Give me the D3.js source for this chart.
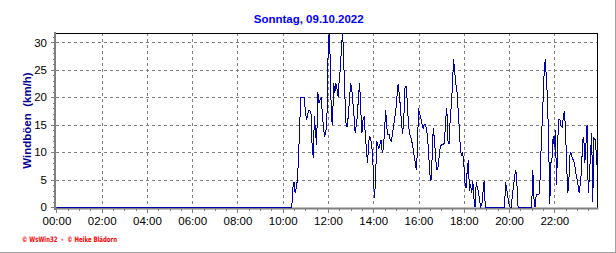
<!DOCTYPE html>
<html><head><meta charset="utf-8">
<script src="https://cdn.jsdelivr.net/npm/d3@7"></script>
<style>
html,body{margin:0;padding:0;background:#fff;}
svg{display:block;}
text{font-family:"Liberation Sans",Arial,sans-serif;}
</style></head>
<body>
<script>
// ---- data ----
const title = "Sonntag, 09.10.2022";
const yTitle = "Windböen  (km/h)";
const footer = "© WsWin32  -  © Heike Blädorn";
const xTickLabels = ["00:00","02:00","04:00","06:00","08:00","10:00","12:00","14:00","16:00","18:00","20:00","22:00"];
const yTickValues = [0,5,10,15,20,25,30];
const calmTimes = ["00:00","02:00","04:00","06:00","08:00"];
const calmValues = [0,0,0,0,0];
const gustStart = "10:00";
const gustStepMinutes = 3;
const gusts = [
 0,0,0,0,0,0,0,0,0,3.5, 4.6,2.5,3.5,5,9,15,20,20,20,20,
 17.5,15.8,16.8,17.6,17.6,17,11,9,16.5,13.5, 11.3,21,19,19.5,20,17,14.5,12.8,13.5,15.5,
 27,31.7,27,16,15,22.6,20.8,22.5,21.5,20, 23.5,25.3,29.5,31.7,26,20,15,14.5,16.8,19.5,
 22.6,21.5,19,16.5,13.5,15,16.5,20.5,22.6,17.5, 13.5,16,16.5,13,10.4,8,12,12.9,12,10.5,
 7,1.6,4.5,12,11.3,10.6,11.5,12.2,9.8,10.8, 14,17.7,14.5,13.2,13.2,12.3,12,13.2,14.8,16.2,
 17.7,20.2,22.4,20.5,18.3,15.2,13.3,16,21.7,22, 19.5,15.5,13.3,12.8,12,11,9.5,8.2,6.8,10,
 18,17,16.3,15.2,14.3,15,15,14.3,12.8,9.5, 6,4.7,8.8,14.3,12.5,9.5,6.8,6.8,8.8,10.5,
 11.3,11.3,11.3,11.8,16,18,12,11.5,16,18.5, 22.2,27,24.5,22.5,21,17.7,14.5,10.5,9.3,10,
 8,4.5,3.5,6.5,8.5,3,4.2,2.5,4.7,1.5, 0,4.5,3.5,2.8,1.2,0,0.5,2.8,4.7,0,
 0,0,0,0,0,0,0,0,0,0, 0,0,0,0,0,0,0,4.5,3.2,1.8,
 0.5,0,0,2.2,4,5.6,6.8,4,0,0, 0,0,0,0,0,0,0,0,0,0,
 0,6.8,1.5,0,2.2,2.2,2.2,2.5,9,14, 19,24.4,26.9,23.5,19.5,12,0.5,8,9,13,
 11,14,4,12,15.9,15.9,14.7,14.5,16.5,17.5, 13.5,7,2.6,5.5,10,9.8,8.8,8.5,7.8,6.2,
 5.2,4,2.5,4.4,6.5,12,12.8,8,11.5,15, 2.5,5.5,9.5,13.5,1,12.5,12.3,10,6.8
];

// ---- build series ----
const toMin = s => { const [h,m] = s.split(":").map(Number); return h*60+m; };
const series = calmTimes.map((t,i)=>({t:toMin(t), v:calmValues[i]}))
  .concat(gusts.map((v,i)=>({t:toMin(gustStart)+i*gustStepMinutes, v})));

const W = 616, H = 253;
const svg = d3.select("body").append("svg").attr("width",W).attr("height",H);

const x = d3.scaleLinear().domain([0, series[series.length-1].t]).range([56.4, 597.3]);
const y = d3.scaleLinear().domain([0, 31.7]).range([207, 33]);

// outer frame (right & bottom)
svg.append("line").attr("x1",0).attr("x2",W).attr("y1",H-0.5).attr("y2",H-0.5)
  .attr("stroke","#a0a0a0").attr("shape-rendering","crispEdges");
svg.append("line").attr("x1",W-0.5).attr("x2",W-0.5).attr("y1",0).attr("y2",H)
  .attr("stroke","#a0a0a0").attr("shape-rendering","crispEdges");

const xTicks = xTickLabels.map(toMin);

// grid
const grid = svg.append("g").attr("stroke","#808080").attr("stroke-dasharray","3,3")
  .attr("shape-rendering","crispEdges");
grid.selectAll("line.v").data(xTicks.slice(1)).join("line")
  .attr("x1",d=>Math.round(x(d))+0.5).attr("x2",d=>Math.round(x(d))+0.5)
  .attr("y1",y.range()[1]).attr("y2",y(0));
grid.selectAll("line.h").data(yTickValues.slice(1)).join("line")
  .attr("y1",d=>Math.round(y(d))+0.5).attr("y2",d=>Math.round(y(d))+0.5)
  .attr("x1",x.range()[0]).attr("x2",x.range()[1]);

// top & right border
svg.append("line").attr("x1",55).attr("x2",x.range()[1]+0.5).attr("y1",33.5).attr("y2",33.5)
  .attr("stroke","#000").attr("shape-rendering","crispEdges");
svg.append("line").attr("x1",x.range()[1]+0.5).attr("x2",x.range()[1]+0.5).attr("y1",33).attr("y2",208)
  .attr("stroke","#000").attr("shape-rendering","crispEdges");

// x axis minor ticks
const xMinor = d3.range(0, series[series.length-1].t + 1, 30);
svg.append("g").attr("transform","translate(0,208)")
  .call(d3.axisBottom(x).tickValues(xMinor).tickSize(3).tickFormat(""))
  .call(g=>g.select(".domain").remove())
  .call(g=>g.selectAll("line").attr("stroke","#808080").attr("shape-rendering","crispEdges"));
// x axis major ticks with labels
svg.append("g").attr("transform","translate(0,208)")
  .call(d3.axisBottom(x).tickValues(xTicks).tickSize(5).tickPadding(4).tickFormat((d,i)=>xTickLabels[i]))
  .call(g=>g.select(".domain").remove())
  .call(g=>g.selectAll("line").attr("stroke","#808080").attr("shape-rendering","crispEdges"))
  .call(g=>g.selectAll("text").attr("fill","#000").style("font-size","11.5px")
     .style("font-family","'Liberation Sans',Arial,sans-serif"));

// y axis minor ticks
svg.append("g").attr("transform","translate(55,0)")
  .call(d3.axisLeft(y).tickValues(d3.range(0,32,1)).tickSize(2).tickFormat(""))
  .call(g=>g.select(".domain").remove())
  .call(g=>g.selectAll("line").attr("stroke","#808080").attr("shape-rendering","crispEdges"));
svg.append("g").attr("transform","translate(55,0)")
  .call(d3.axisLeft(y).tickValues(yTickValues).tickSize(4).tickPadding(4))
  .call(g=>g.select(".domain").remove())
  .call(g=>g.selectAll("line").attr("stroke","#808080").attr("shape-rendering","crispEdges"))
  .call(g=>g.selectAll("text").attr("fill","#000").style("font-size","11.5px")
     .style("font-family","'Liberation Sans',Arial,sans-serif"));

// axis lines (gray, 2px)
svg.append("rect").attr("x",54).attr("y",32).attr("width",2).attr("height",178).attr("fill","#808080");
svg.append("rect").attr("x",54).attr("y",207.5).attr("width",x.range()[1]-53).attr("height",2).attr("fill","#808080");

// data line
svg.append("clipPath").attr("id","clip").append("rect")
  .attr("x",x.range()[0]).attr("y",33).attr("width",x.range()[1]-x.range()[0]).attr("height",175);
const line = d3.line().x(d=>x(d.t)).y(d=>y(d.v));
svg.append("path").datum(series).attr("d",line).attr("clip-path","url(#clip)")
  .attr("fill","none").attr("stroke","#0000a8").attr("stroke-width",1)
  .attr("shape-rendering","crispEdges");

// titles
svg.append("text").attr("x",308.7).attr("y",22.5).attr("text-anchor","middle")
  .attr("fill","#0000ff").style("font-size","11.5px").style("font-weight","bold").text(title);
svg.append("text").attr("transform","translate(31,120.5) rotate(-90)").attr("text-anchor","middle")
  .attr("fill","#000090").style("font-size","11.5px").style("font-weight","bold")
  .style("white-space","pre").attr("xml:space","preserve").text(yTitle);
svg.append("text").attr("x",22).attr("y",241.5)
  .attr("fill","#ff0000").style("font-size","7.5px").style("font-weight","bold")
  .style("font-family","'DejaVu Sans',sans-serif")
  .style("white-space","pre").attr("xml:space","preserve")
  .attr("textLength",95).attr("lengthAdjust","spacingAndGlyphs").text(footer);
</script>
</body></html>
